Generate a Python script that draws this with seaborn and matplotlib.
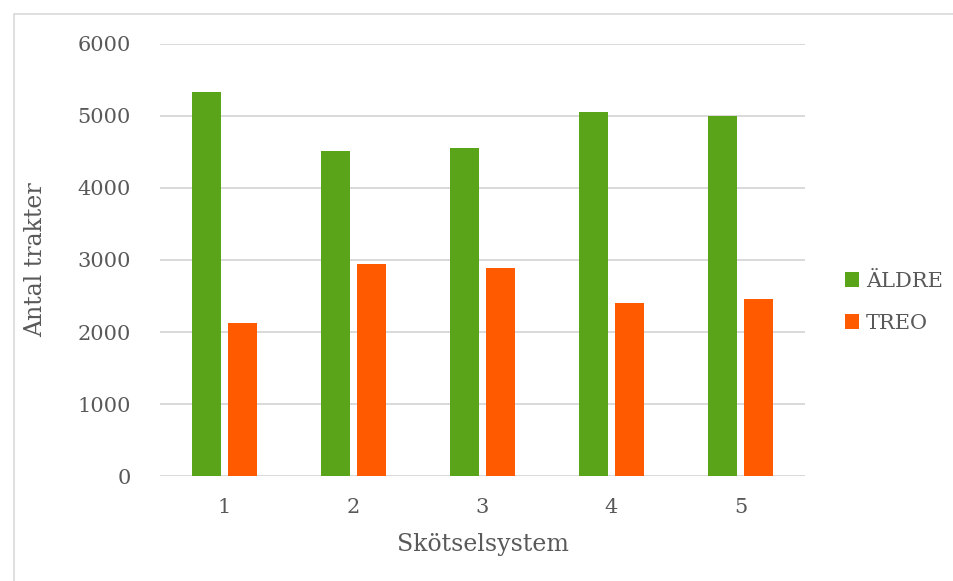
import numpy as np
import pandas as pd
import matplotlib.pyplot as plt
import seaborn as sns
from matplotlib.patches import Patch, Rectangle

# data
system = ['1', '2', '3', '4', '5']
aldre = [5330, 4520, 4560, 5055, 5000]
treo = [2120, 2940, 2895, 2400, 2460]
series = ['ÄLDRE', 'TREO']
colors = ['#5AA41A', '#FF5A00']

df = pd.DataFrame({
    'Skötselsystem': system * 2,
    'Antal': aldre + treo,
    'Serie': ['ÄLDRE'] * 5 + ['TREO'] * 5,
})

sns.set_style('white')
plt.rcParams['font.family'] = ['DejaVu Serif']
txt = '#595959'

fig = plt.figure(figsize=(9.54, 5.81), dpi=100)
ax = fig.add_axes([0.1677, 0.1807, 0.6761, 0.7436])

sns.barplot(data=df, x='Skötselsystem', y='Antal', hue='Serie',
            hue_order=series, palette=colors, saturation=1,
            width=0.568, gap=0.21, linewidth=0, errorbar=None,
            legend=False, ax=ax)

ax.set_ylim(0, 6000)
ax.set_xlim(-0.5, 4.5)
ax.set_yticks(np.arange(0, 6001, 1000))
ax.yaxis.grid(True, color='#D9D9D9', linewidth=1.4)
ax.set_axisbelow(True)
for s in ax.spines.values():
    s.set_visible(False)
ax.tick_params(axis='both', length=0, labelsize=15, labelcolor=txt)
ax.tick_params(axis='y', pad=21)
ax.tick_params(axis='x', pad=16)
ax.set_xlabel('Skötselsystem', fontsize=17, color=txt, labelpad=11)
ax.set_ylabel('Antal trakter', fontsize=17, color=txt, labelpad=22)

handles = [Patch(facecolor=c, edgecolor='none') for c in colors]
fig.legend(handles, series, loc='center left', bbox_to_anchor=(0.866, 0.48),
           frameon=False, fontsize=15, labelcolor=txt, handlelength=0.7,
           handleheight=0.7, handletextpad=0.3, labelspacing=1.1)

# chart-area border like the original
fig.patches.append(Rectangle((14 / 954, -0.1), 1.2, 1 - 14 / 581 + 0.1,
                             transform=fig.transFigure, fill=False,
                             edgecolor='#D9D9D9', linewidth=1.2))

fig.savefig('out.png', dpi=100)
